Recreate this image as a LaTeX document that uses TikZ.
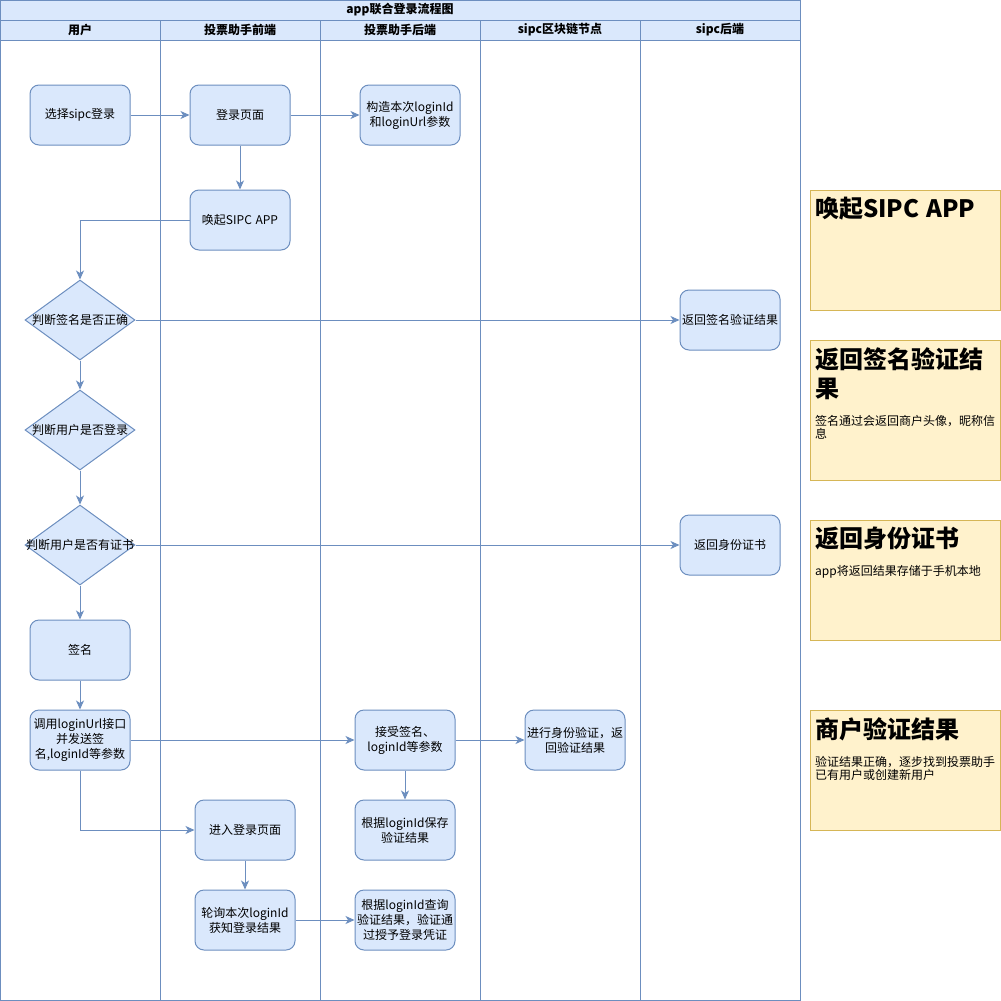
\documentclass[tikz,border=0pt]{standalone}
\usepackage{fontspec}
\setmainfont{Noto Sans CJK SC}
\usetikzlibrary{shapes.geometric,arrows.meta}
\definecolor{bfill}{HTML}{DAE8FC}
\definecolor{bline}{HTML}{6C8EBF}
\definecolor{nfill}{HTML}{FFF2CC}
\definecolor{nline}{HTML}{D6B656}
\begin{document}
\begin{tikzpicture}[x=1pt,y=-1pt,
  proc/.style={draw=bline, fill=bfill, rounded corners=9pt, minimum width=100pt, minimum height=60pt, align=center, font=\fontsize{12}{15}\selectfont, inner sep=1pt, line width=1pt},
  dec/.style={draw=bline, fill=bfill, diamond, minimum width=110pt, minimum height=80pt, inner sep=0pt, aspect=1.375, line width=1pt},
  dlabel/.style={font=\fontsize{12}{15}\selectfont, inner sep=0pt},
  flow/.style={draw=bline, line width=1pt, -{Stealth[length=9pt,width=8pt,inset=2.5pt]}},
  note/.style={draw=nline, fill=nfill, minimum width=190pt, anchor=north west, line width=1pt},
  ntext/.style={anchor=north west, text width=184pt, align=left, inner xsep=5pt, inner ysep=7pt},
  hdr/.style={font=\fontsize{12}{14}\selectfont\bfseries, inner sep=1pt},
  lane/.style={draw=bline, line width=1pt}
]
\useasboundingbox (0,0) rectangle (1001,1001);
% pool
\fill[bfill] (0,0) rectangle (800,40);
\draw[lane] (0,0) rectangle (800,1000);
\draw[lane] (0,20) -- (800,20);
\draw[lane] (0,40) -- (800,40);
\foreach \xx in {160,320,480,640} \draw[lane] (\xx,20) -- (\xx,1000);
\node[hdr] (title) at (400,10) {app联合登录流程图};
\node[hdr] (h1) at (80,30) {用户};
\node[hdr] (h2) at (240,30) {投票助手前端};
\node[hdr] (h3) at (400,30) {投票助手后端};
\node[hdr] (h4) at (560,30) {sipc区块链节点};
\node[hdr] (h5) at (720,30) {sipc后端};

% process nodes
\node[proc] (sel) at (80,115) {选择sipc登录};
\node[proc] (login) at (240,115) {登录页面};
\node[proc] (build) at (410,115) {构造本次loginId\\和loginUrl参数};
\node[proc] (wake) at (240,220) {唤起SIPC\hspace{0.3em}APP};
\node[dec, label={[dlabel]center:判断签名是否正确}] (d1) at (80,320) {};
\node[proc] (retsig) at (730,320) {返回签名验证结果};
\node[dec, label={[dlabel]center:判断用户是否登录}] (d2) at (80,430) {};
\node[dec, label={[dlabel]center:判断用户是否有证书}] (d3) at (80,545) {};
\node[proc] (retcert) at (730,545) {返回身份证书};
\node[proc] (sign) at (80,650) {签名};
\node[proc] (call) at (80,740) {调用loginUrl接口\\并发送签\\名,loginId等参数};
\node[proc] (recv) at (405,740) {接受签名、\\loginId等参数};
\node[proc] (verify) at (575,740) {进行身份验证，返\\回验证结果};
\node[proc] (save) at (405,830) {根据loginId保存\\验证结果};
\node[proc] (enter) at (245,830) {进入登录页面};
\node[proc] (poll) at (245,920) {轮询本次loginId\\获知登录结果};
\node[proc] (query) at (405,920) {根据loginId查询\\验证结果，验证通\\过授予登录凭证};

% connectors
\draw[flow] (sel) -- (login);
\draw[flow] (login) -- (build);
\draw[flow] (login) -- (wake);
\draw[flow] (wake.west) -| (d1.north);
\draw[flow] (d1.east) -- (retsig.west);
\draw[flow] (d1) -- (d2);
\draw[flow] (d2) -- (d3);
\draw[flow] (d3.east) -- (retcert.west);
\draw[flow] (d3) -- (sign);
\draw[flow] (sign) -- (call);
\draw[flow] (call) -- (recv);
\draw[flow] (recv) -- (verify);
\draw[flow] (recv) -- (save);
\draw[flow] (call.south) |- (enter.west);
\draw[flow] (enter) -- (poll);
\draw[flow] (poll) -- (query);

% notes
\node[note, minimum height=120pt] (n1) at (810,190) {};
\node[ntext] (t1) at (n1.north west) {{\fontsize{24}{29}\selectfont\bfseries 唤起SIPC\hspace{0.3em}APP\par}};
\node[note, minimum height=140pt] (n2) at (810,340) {};
\node[ntext] (t2) at (n2.north west) {{\fontsize{24}{29}\selectfont\bfseries 返回签名验证结\\果\par}\vspace{15pt}{\fontsize{12}{13}\selectfont 签名通过会返回商户头像，昵称信\\息\par}};
\node[note, minimum height=120pt] (n3) at (810,520) {};
\node[ntext] (t3) at (n3.north west) {{\fontsize{24}{29}\selectfont\bfseries 返回身份证书\par}\vspace{15pt}{\fontsize{12}{13}\selectfont app将返回结果存储于手机本地\par}};
\node[note, minimum height=120pt] (n4) at (810,710) {};
\node[ntext] (t4) at (n4.north west) {{\fontsize{24}{29}\selectfont\bfseries 商户验证结果\par}\vspace{15pt}{\fontsize{12}{13}\selectfont 验证结果正确，逐步找到投票助手\\已有用户或创建新用户\par}};
\end{tikzpicture}
\end{document}
